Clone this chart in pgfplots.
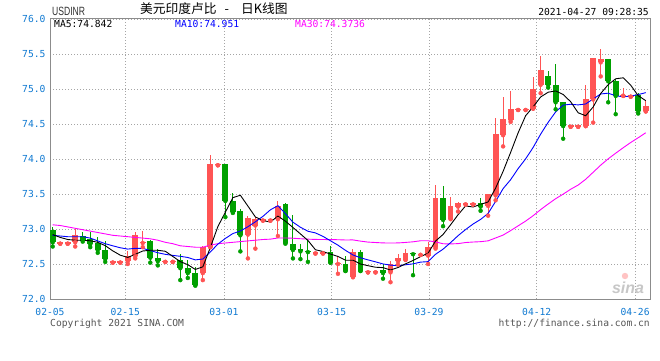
\documentclass[border=0pt]{standalone}
\usepackage{pgfplots}
\pgfplotsset{compat=1.18}
\usepackage{pgfplotstable}
\usepackage{fontspec}
\setmainfont{Liberation Sans}
\setmonofont{DejaVu Sans Mono}
\newfontfamily\cjk{Noto Sans CJK SC}
\definecolor{candred}{RGB}{255,84,84}
\definecolor{candgreen}{RGB}{0,160,0}
\definecolor{tickblue}{RGB}{16,122,210}
\definecolor{gridgray}{RGB}{165,165,165}
\definecolor{framegray}{RGB}{140,140,140}
\definecolor{maviolet}{RGB}{255,0,255}
\definecolor{mablue}{RGB}{0,0,255}
\definecolor{txtgray}{RGB}{85,85,85}

% up (red) candles: index open high low close
\pgfplotstableread{
i o h l c
1 72.79 72.81 72.79 72.81
2 72.79 72.81 72.79 72.81
3 72.81 73.00 72.75 72.91
8 72.52 72.54 72.52 72.54
9 72.52 72.54 72.52 72.54
10 72.54 72.68 72.50 72.62
11 72.61 72.96 72.58 72.92
12 72.80 72.97 72.74 72.815
15 72.53 72.55 72.53 72.55
16 72.53 72.55 72.53 72.55
20 72.37 72.76 72.27 72.74
21 72.74 74.06 72.74 73.93
22 73.91 73.93 73.91 73.93
26 72.92 73.18 72.58 73.16
27 73.05 73.17 72.72 73.15
28 73.12 73.14 73.12 73.14
29 73.12 73.14 73.12 73.14
30 73.14 73.40 72.90 73.33
35 72.65 72.67 72.65 72.67
36 72.65 72.67 72.65 72.67
38 72.50 72.62 72.36 72.515
40 72.32 72.72 72.31 72.67
42 72.38 72.40 72.38 72.40
43 72.38 72.40 72.38 72.40
45 72.38 72.54 72.24 72.50
46 72.54 72.64 72.49 72.58
47 72.56 72.72 72.56 72.66
49 72.63 72.65 72.63 72.65
50 72.62 72.82 72.50 72.74
51 72.74 73.63 72.72 73.45
53 73.15 73.46 73.14 73.33
54 73.32 73.38 73.25 73.37
55 73.35 73.37 73.35 73.37
56 73.35 73.37 73.35 73.37
58 73.33 73.50 73.19 73.50
59 73.48 74.58 73.41 74.36
60 74.34 74.89 74.18 74.57
61 74.56 74.97 74.53 74.72
62 74.70 74.72 74.70 74.72
63 74.70 74.72 74.70 74.72
64 74.72 75.17 74.72 75.00
65 75.06 75.47 74.94 75.27
69 74.46 74.48 74.46 74.48
70 74.46 74.48 74.46 74.48
71 74.47 75.06 74.47 74.85
72 74.85 75.44 74.52 75.44
73 75.38 75.57 75.18 75.43
76 74.905 75.02 74.90 74.92
77 74.89 74.91 74.89 74.91
79 74.68 74.84 74.68 74.76
}\uptab

% down (green) candles: index open high low close
\pgfplotstableread{
i o h l c
0 72.98 73.03 72.75 72.81
4 72.905 72.96 72.82 72.85
5 72.86 72.96 72.74 72.78
6 72.80 72.89 72.66 72.70
7 72.70 72.83 72.53 72.57
13 72.83 72.85 72.52 72.59
14 72.58 72.72 72.48 72.54
17 72.56 72.64 72.27 72.44
18 72.45 72.56 72.30 72.37
19 72.37 72.46 72.19 72.20
23 73.93 73.93 73.17 73.40
24 73.40 73.51 73.23 73.24
25 73.26 73.29 72.68 72.91
31 73.36 73.37 72.79 72.80
32 72.78 73.20 72.58 72.70
33 72.71 72.79 72.57 72.68
34 72.69 72.86 72.53 72.67
37 72.67 72.76 72.52 72.52
39 72.50 72.61 72.40 72.40
41 72.67 72.70 72.40 72.40
44 72.41 72.50 72.29 72.37
48 72.66 72.66 72.34 72.64
52 73.45 73.62 73.04 73.13
57 73.37 73.45 73.26 73.32
66 75.19 75.26 75.02 75.06
67 75.06 75.36 74.71 74.81
68 74.82 74.82 74.29 74.47
74 75.43 75.43 74.81 75.11
75 75.12 75.14 74.64 74.90
78 74.91 74.94 74.65 74.68
}\downtab

% moving averages: index MA5 MA10 MA30
\pgfplotstableread{
i a b c
0 72.92 72.91 73.06
1 72.88 72.90 73.05
2 72.85 72.89 73.03
3 72.84 72.89 73.01
4 72.838 72.89 72.99
5 72.832 72.87 72.97
6 72.810 72.83 72.95
7 72.762 72.79 72.93
8 72.688 72.76 72.91
9 72.626 72.732 72.90
10 72.594 72.713 72.89
11 72.638 72.724 72.88
12 72.686 72.724 72.87
13 72.696 72.692 72.86
14 72.696 72.661 72.84
15 72.682 72.638 72.81
16 72.608 72.623 72.79
17 72.534 72.610 72.76
18 72.490 72.593 72.75
19 72.422 72.559 72.74
20 72.460 72.571 72.74
21 72.736 72.672 72.77
22 73.034 72.784 72.79
23 73.240 72.865 72.80
24 73.448 72.935 72.81
25 73.482 72.971 72.82
26 73.328 73.032 72.83
27 73.172 73.103 72.84
28 73.120 73.180 72.85
29 73.100 73.274 72.855
30 73.184 73.333 72.872
31 73.112 73.220 72.872
32 73.022 73.097 72.868
33 72.930 73.025 72.861
34 72.836 72.968 72.855
35 72.704 72.944 72.851
36 72.678 72.895 72.850
37 72.642 72.832 72.848
38 72.608 72.769 72.847
39 72.554 72.695 72.843
40 72.554 72.629 72.844
41 72.500 72.589 72.827
42 72.476 72.559 72.813
43 72.454 72.531 72.807
44 72.448 72.501 72.801
45 72.414 72.484 72.800
46 72.450 72.475 72.801
47 72.502 72.489 72.808
48 72.550 72.502 72.817
49 72.606 72.527 72.832
50 72.654 72.534 72.832
51 72.828 72.639 72.816
52 72.922 72.712 72.789
53 73.060 72.805 72.787
54 73.204 72.905 72.791
55 73.330 72.992 72.807
56 73.314 73.071 72.814
57 73.352 73.137 72.819
58 73.386 73.223 72.831
59 73.584 73.394 72.872
60 73.824 73.577 72.913
61 74.094 73.704 72.977
62 74.374 73.863 73.045
63 74.618 74.002 73.113
64 74.746 74.165 73.190
65 74.886 74.355 73.277
66 74.954 74.524 73.357
67 74.972 74.673 73.433
68 74.922 74.770 73.498
69 74.818 74.782 73.568
70 74.660 74.773 73.628
71 74.618 74.786 73.710
72 74.744 74.858 73.811
73 74.936 74.929 73.912
74 75.062 74.940 74.003
75 75.146 74.903 74.083
76 75.160 74.889 74.161
77 75.054 74.899 74.236
78 74.904 74.920 74.304
79 74.834 74.948 74.375
}\matab

\newcommand{\monofs}{\ttfamily\fontsize{9.7}{10}\selectfont}

\begin{document}
\begin{tikzpicture}[x=1bp,y=1bp]
\fill[white] (0,0) rectangle (660,360);
\begin{axis}[
  at={(50bp,61bp)}, anchor=south west,
  scale only axis, width=600bp, height=280bp,
  xmin=-0.36, xmax=79.57, ymin=72, ymax=76,
  axis line style={draw=framegray, line width=1bp},
  xtick={-0.36,9.67,22.82,37.17,50.13,64.48,77.58},
  xticklabels={02-05,02-15,03-01,03-15,03-29,04-12,04-26},
  ytick={72,72.5,73,73.5,74,74.5,75,75.5,76},
  yticklabels={72.0,72.5,73.0,73.5,74.0,74.5,75.0,75.5,76.0},
  major tick length=0pt,
  grid=major,
  major grid style={draw=gridgray, line width=0.8bp, dash pattern=on 1bp off 2bp},
  tick label style={font=\monofs, text=tickblue},
  xticklabel style={yshift=-6bp},
  yticklabel style={xshift=-1bp},
]
% wicks
\addplot[candred, only marks, mark=none, forget plot,
  error bars/.cd, y dir=plus, y explicit, error mark=none,
  error bar style={line width=1bp, solid}]
  table[x=i, y=l, y error expr=\thisrow{h}-\thisrow{l}] {\uptab};
\addplot[candgreen, only marks, mark=none, forget plot,
  error bars/.cd, y dir=plus, y explicit, error mark=none,
  error bar style={line width=1bp, solid}]
  table[x=i, y=l, y error expr=\thisrow{h}-\thisrow{l}] {\downtab};
% bodies
\addplot[candred, only marks, mark=none, forget plot,
  error bars/.cd, y dir=plus, y explicit, error mark=none,
  error bar style={line width=5.8bp, solid}]
  table[x=i, y=o, y error expr=\thisrow{c}-\thisrow{o}] {\uptab};
\addplot[candgreen, only marks, mark=none, forget plot,
  error bars/.cd, y dir=plus, y explicit, error mark=none,
  error bar style={line width=5.8bp, solid}]
  table[x=i, y=c, y error expr=\thisrow{o}-\thisrow{c}] {\downtab};
% moving averages
\addplot[maviolet, line width=0.9bp, mark=none] table[x=i, y=c] {\matab};
\addplot[mablue, line width=0.9bp, mark=none] table[x=i, y=b] {\matab};
\addplot[black, line width=0.9bp, mark=none] table[x=i, y=a] {\matab};
\end{axis}
% MA legend row
\node[anchor=west, inner sep=0, font=\monofs, text=black] at (54,336) {MA5:74.842};
\node[anchor=west, inner sep=0, font=\monofs, text=mablue] at (175,336) {MA10:74.951};
\node[anchor=west, inner sep=0, font=\monofs, text=maviolet] at (295,336) {MA30:74.3736};
% titles
\node[anchor=west, inner sep=0, xscale=0.72, text=black!80, font=\fontsize{12}{12}\selectfont] at (52,348.5) {USDINR};
\node[anchor=west, inner sep=0, font=\cjk\fontsize{12.8}{13}\selectfont] at (140,351) {美元印度卢比\hspace{8bp}-\hspace{12bp}日K线图};
\node[anchor=east, inner sep=0, font=\monofs, text=black] at (649,348.3) {2021-04-27 09:28:35};
% footer
\node[anchor=west, inner sep=0, font=\monofs, text=txtgray] at (50,36) {Copyright 2021 SINA.COM};
\node[anchor=east, inner sep=0, font=\monofs, text=txtgray] at (650,36) {http://finance.sina.com.cn};
% watermark
\node[anchor=center, inner sep=0, text=black!22, font=\bfseries\itshape\fontsize{16}{16}\selectfont] at (628,72) {sina};
\fill[candred!35] (625,84) circle (3.2);
\pgfresetboundingbox
\useasboundingbox (0,0) rectangle (660,360);
\end{tikzpicture}
\end{document}
